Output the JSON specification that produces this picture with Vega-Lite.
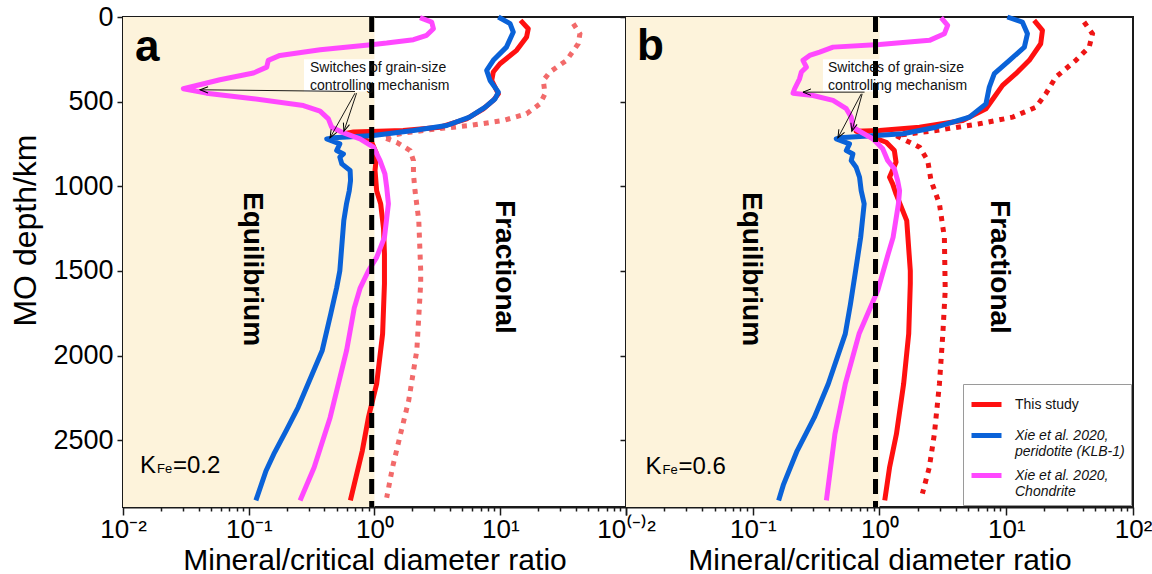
{
  "$schema": "https://vega.github.io/schema/vega-lite/v6.json",
  "padding": {"left": 8, "top": 2, "right": 0, "bottom": 0},
  "spacing": 0,
  "bounds": "flush",
  "datasets": {
    "curves": [
      {"p": "a", "s": "dot", "x": 38.1, "d": 39},
      {"p": "a", "s": "dot", "x": 43, "d": 99},
      {"p": "a", "s": "dot", "x": 41.7, "d": 158},
      {"p": "a", "s": "dot", "x": 33.7, "d": 256},
      {"p": "a", "s": "dot", "x": 24.8, "d": 325},
      {"p": "a", "s": "dot", "x": 22.0, "d": 375},
      {"p": "a", "s": "dot", "x": 22.7, "d": 454},
      {"p": "a", "s": "dot", "x": 20.7, "d": 513},
      {"p": "a", "s": "dot", "x": 16.2, "d": 572},
      {"p": "a", "s": "dot", "x": 10.6, "d": 611},
      {"p": "a", "s": "dot", "x": 5.74, "d": 641},
      {"p": "a", "s": "dot", "x": 3.12, "d": 661},
      {"p": "a", "s": "dot", "x": 1.69, "d": 686},
      {"p": "a", "s": "dot", "x": 1.17, "d": 710},
      {"p": "a", "s": "dot", "x": 1.5, "d": 740},
      {"p": "a", "s": "dot", "x": 1.92, "d": 789},
      {"p": "a", "s": "dot", "x": 2.04, "d": 848},
      {"p": "a", "s": "dot", "x": 2.04, "d": 927},
      {"p": "a", "s": "dot", "x": 2.1, "d": 1026},
      {"p": "a", "s": "dot", "x": 2.25, "d": 1203},
      {"p": "a", "s": "dot", "x": 2.33, "d": 1499},
      {"p": "a", "s": "dot", "x": 2.33, "d": 1575},
      {"p": "a", "s": "dot", "x": 2.17, "d": 1970},
      {"p": "a", "s": "dot", "x": 1.87, "d": 2267},
      {"p": "a", "s": "dot", "x": 1.61, "d": 2464},
      {"p": "a", "s": "dot", "x": 1.39, "d": 2662},
      {"p": "a", "s": "dot", "x": 1.25, "d": 2840},

      {"p": "a", "s": "study", "x": 14.5, "d": 20},
      {"p": "a", "s": "study", "x": 16.7, "d": 69},
      {"p": "a", "s": "study", "x": 16.2, "d": 118},
      {"p": "a", "s": "study", "x": 13.5, "d": 197},
      {"p": "a", "s": "study", "x": 9.95, "d": 276},
      {"p": "a", "s": "study", "x": 8.8, "d": 325},
      {"p": "a", "s": "study", "x": 8.55, "d": 375},
      {"p": "a", "s": "study", "x": 9.66, "d": 454},
      {"p": "a", "s": "study", "x": 8.8, "d": 493},
      {"p": "a", "s": "study", "x": 7.35, "d": 542},
      {"p": "a", "s": "study", "x": 5.4, "d": 602},
      {"p": "a", "s": "study", "x": 3.32, "d": 651},
      {"p": "a", "s": "study", "x": 1.69, "d": 671},
      {"p": "a", "s": "study", "x": 0.68, "d": 680},
      {"p": "a", "s": "study", "x": 0.6, "d": 686},
      {"p": "a", "s": "study", "x": 0.95, "d": 740},
      {"p": "a", "s": "study", "x": 1.04, "d": 809},
      {"p": "a", "s": "study", "x": 1.01, "d": 907},
      {"p": "a", "s": "study", "x": 1.04, "d": 1026},
      {"p": "a", "s": "study", "x": 1.12, "d": 1104},
      {"p": "a", "s": "study", "x": 1.18, "d": 1250},
      {"p": "a", "s": "study", "x": 1.2, "d": 1400},
      {"p": "a", "s": "study", "x": 1.2, "d": 1575},
      {"p": "a", "s": "study", "x": 1.16, "d": 1872},
      {"p": "a", "s": "study", "x": 1.04, "d": 2168},
      {"p": "a", "s": "study", "x": 0.895, "d": 2366},
      {"p": "a", "s": "study", "x": 0.8, "d": 2563},
      {"p": "a", "s": "study", "x": 0.69, "d": 2761},
      {"p": "a", "s": "study", "x": 0.643, "d": 2856},

      {"p": "a", "s": "klb", "x": 9.66, "d": 0},
      {"p": "a", "s": "klb", "x": 11.97, "d": 39},
      {"p": "a", "s": "klb", "x": 12.7, "d": 89},
      {"p": "a", "s": "klb", "x": 11.2, "d": 178},
      {"p": "a", "s": "klb", "x": 8.8, "d": 256},
      {"p": "a", "s": "klb", "x": 7.8, "d": 316},
      {"p": "a", "s": "klb", "x": 8.3, "d": 375},
      {"p": "a", "s": "klb", "x": 9.66, "d": 444},
      {"p": "a", "s": "klb", "x": 9.1, "d": 483},
      {"p": "a", "s": "klb", "x": 7.6, "d": 533},
      {"p": "a", "s": "klb", "x": 5.7, "d": 592},
      {"p": "a", "s": "klb", "x": 3.75, "d": 641},
      {"p": "a", "s": "klb", "x": 2.04, "d": 671},
      {"p": "a", "s": "klb", "x": 0.98, "d": 700},
      {"p": "a", "s": "klb", "x": 0.471, "d": 714},
      {"p": "a", "s": "klb", "x": 0.417, "d": 720},
      {"p": "a", "s": "klb", "x": 0.53, "d": 750},
      {"p": "a", "s": "klb", "x": 0.5, "d": 789},
      {"p": "a", "s": "klb", "x": 0.566, "d": 809},
      {"p": "a", "s": "klb", "x": 0.53, "d": 828},
      {"p": "a", "s": "klb", "x": 0.55, "d": 868},
      {"p": "a", "s": "klb", "x": 0.64, "d": 907},
      {"p": "a", "s": "klb", "x": 0.645, "d": 966},
      {"p": "a", "s": "klb", "x": 0.63, "d": 1026},
      {"p": "a", "s": "klb", "x": 0.6, "d": 1100},
      {"p": "a", "s": "klb", "x": 0.57, "d": 1203},
      {"p": "a", "s": "klb", "x": 0.53, "d": 1499},
      {"p": "a", "s": "klb", "x": 0.5, "d": 1600},
      {"p": "a", "s": "klb", "x": 0.45, "d": 1750},
      {"p": "a", "s": "klb", "x": 0.384, "d": 1970},
      {"p": "a", "s": "klb", "x": 0.247, "d": 2306},
      {"p": "a", "s": "klb", "x": 0.198, "d": 2445},
      {"p": "a", "s": "klb", "x": 0.158, "d": 2583},
      {"p": "a", "s": "klb", "x": 0.137, "d": 2682},
      {"p": "a", "s": "klb", "x": 0.114, "d": 2856},

      {"p": "a", "s": "chon", "x": 2.3, "d": 4},
      {"p": "a", "s": "chon", "x": 2.85, "d": 30},
      {"p": "a", "s": "chon", "x": 2.94, "d": 69},
      {"p": "a", "s": "chon", "x": 2.6, "d": 108},
      {"p": "a", "s": "chon", "x": 2.04, "d": 134},
      {"p": "a", "s": "chon", "x": 1.25, "d": 154},
      {"p": "a", "s": "chon", "x": 0.98, "d": 162},
      {"p": "a", "s": "chon", "x": 0.37, "d": 193},
      {"p": "a", "s": "chon", "x": 0.177, "d": 227},
      {"p": "a", "s": "chon", "x": 0.143, "d": 256},
      {"p": "a", "s": "chon", "x": 0.139, "d": 296},
      {"p": "a", "s": "chon", "x": 0.109, "d": 331},
      {"p": "a", "s": "chon", "x": 0.059, "d": 371},
      {"p": "a", "s": "chon", "x": 0.0302, "d": 424},
      {"p": "a", "s": "chon", "x": 0.046, "d": 450},
      {"p": "a", "s": "chon", "x": 0.109, "d": 483},
      {"p": "a", "s": "chon", "x": 0.272, "d": 523},
      {"p": "a", "s": "chon", "x": 0.369, "d": 556},
      {"p": "a", "s": "chon", "x": 0.43, "d": 602},
      {"p": "a", "s": "chon", "x": 0.456, "d": 651},
      {"p": "a", "s": "chon", "x": 0.548, "d": 680},
      {"p": "a", "s": "chon", "x": 0.767, "d": 720},
      {"p": "a", "s": "chon", "x": 0.98, "d": 769},
      {"p": "a", "s": "chon", "x": 1.107, "d": 848},
      {"p": "a", "s": "chon", "x": 1.21, "d": 927},
      {"p": "a", "s": "chon", "x": 1.25, "d": 1006},
      {"p": "a", "s": "chon", "x": 1.29, "d": 1104},
      {"p": "a", "s": "chon", "x": 1.2, "d": 1302},
      {"p": "a", "s": "chon", "x": 1.04, "d": 1420},
      {"p": "a", "s": "chon", "x": 0.895, "d": 1499},
      {"p": "a", "s": "chon", "x": 0.77, "d": 1600},
      {"p": "a", "s": "chon", "x": 0.69, "d": 1720},
      {"p": "a", "s": "chon", "x": 0.6, "d": 1970},
      {"p": "a", "s": "chon", "x": 0.444, "d": 2366},
      {"p": "a", "s": "chon", "x": 0.331, "d": 2662},
      {"p": "a", "s": "chon", "x": 0.256, "d": 2856},

      {"p": "b", "s": "dot", "x": 41.1, "d": 30},
      {"p": "b", "s": "dot", "x": 47.9, "d": 99},
      {"p": "b", "s": "dot", "x": 45.1, "d": 178},
      {"p": "b", "s": "dot", "x": 35.4, "d": 256},
      {"p": "b", "s": "dot", "x": 24.6, "d": 355},
      {"p": "b", "s": "dot", "x": 20.5, "d": 454},
      {"p": "b", "s": "dot", "x": 17.1, "d": 533},
      {"p": "b", "s": "dot", "x": 11.2, "d": 592},
      {"p": "b", "s": "dot", "x": 6.12, "d": 631},
      {"p": "b", "s": "dot", "x": 2.79, "d": 671},
      {"p": "b", "s": "dot", "x": 1.35, "d": 700},
      {"p": "b", "s": "dot", "x": 1.62, "d": 730},
      {"p": "b", "s": "dot", "x": 2.07, "d": 769},
      {"p": "b", "s": "dot", "x": 2.4, "d": 848},
      {"p": "b", "s": "dot", "x": 2.55, "d": 966},
      {"p": "b", "s": "dot", "x": 2.97, "d": 1104},
      {"p": "b", "s": "dot", "x": 3.25, "d": 1302},
      {"p": "b", "s": "dot", "x": 3.3, "d": 1615},
      {"p": "b", "s": "dot", "x": 3.16, "d": 1872},
      {"p": "b", "s": "dot", "x": 2.97, "d": 2168},
      {"p": "b", "s": "dot", "x": 2.71, "d": 2464},
      {"p": "b", "s": "dot", "x": 2.47, "d": 2662},
      {"p": "b", "s": "dot", "x": 2.18, "d": 2816},

      {"p": "b", "s": "study", "x": 16.6, "d": 20},
      {"p": "b", "s": "study", "x": 19.3, "d": 79},
      {"p": "b", "s": "study", "x": 18.7, "d": 158},
      {"p": "b", "s": "study", "x": 15.2, "d": 256},
      {"p": "b", "s": "study", "x": 11.9, "d": 335},
      {"p": "b", "s": "study", "x": 9.35, "d": 404},
      {"p": "b", "s": "study", "x": 8.05, "d": 473},
      {"p": "b", "s": "study", "x": 6.92, "d": 542},
      {"p": "b", "s": "study", "x": 4.53, "d": 611},
      {"p": "b", "s": "study", "x": 2.07, "d": 651},
      {"p": "b", "s": "study", "x": 1.0, "d": 671},
      {"p": "b", "s": "study", "x": 0.654, "d": 675},
      {"p": "b", "s": "study", "x": 1.13, "d": 740},
      {"p": "b", "s": "study", "x": 1.31, "d": 789},
      {"p": "b", "s": "study", "x": 1.35, "d": 858},
      {"p": "b", "s": "study", "x": 1.2, "d": 947},
      {"p": "b", "s": "study", "x": 1.27, "d": 986},
      {"p": "b", "s": "study", "x": 1.35, "d": 1045},
      {"p": "b", "s": "study", "x": 1.64, "d": 1203},
      {"p": "b", "s": "study", "x": 1.75, "d": 1499},
      {"p": "b", "s": "study", "x": 1.75, "d": 1575},
      {"p": "b", "s": "study", "x": 1.7, "d": 1872},
      {"p": "b", "s": "study", "x": 1.55, "d": 2168},
      {"p": "b", "s": "study", "x": 1.36, "d": 2464},
      {"p": "b", "s": "study", "x": 1.2, "d": 2662},
      {"p": "b", "s": "study", "x": 1.1, "d": 2856},

      {"p": "b", "s": "klb", "x": 10.2, "d": 0},
      {"p": "b", "s": "klb", "x": 13.4, "d": 30},
      {"p": "b", "s": "klb", "x": 14.7, "d": 99},
      {"p": "b", "s": "klb", "x": 13.9, "d": 178},
      {"p": "b", "s": "klb", "x": 10.6, "d": 256},
      {"p": "b", "s": "klb", "x": 8.05, "d": 335},
      {"p": "b", "s": "klb", "x": 7.35, "d": 414},
      {"p": "b", "s": "klb", "x": 6.92, "d": 513},
      {"p": "b", "s": "klb", "x": 5.12, "d": 592},
      {"p": "b", "s": "klb", "x": 2.79, "d": 651},
      {"p": "b", "s": "klb", "x": 1.53, "d": 690},
      {"p": "b", "s": "klb", "x": 0.94, "d": 700},
      {"p": "b", "s": "klb", "x": 0.484, "d": 714},
      {"p": "b", "s": "klb", "x": 0.456, "d": 720},
      {"p": "b", "s": "klb", "x": 0.58, "d": 750},
      {"p": "b", "s": "klb", "x": 0.547, "d": 789},
      {"p": "b", "s": "klb", "x": 0.617, "d": 809},
      {"p": "b", "s": "klb", "x": 0.598, "d": 848},
      {"p": "b", "s": "klb", "x": 0.654, "d": 888},
      {"p": "b", "s": "klb", "x": 0.696, "d": 947},
      {"p": "b", "s": "klb", "x": 0.717, "d": 1026},
      {"p": "b", "s": "klb", "x": 0.757, "d": 1104},
      {"p": "b", "s": "klb", "x": 0.71, "d": 1302},
      {"p": "b", "s": "klb", "x": 0.648, "d": 1499},
      {"p": "b", "s": "klb", "x": 0.59, "d": 1696},
      {"p": "b", "s": "klb", "x": 0.537, "d": 1872},
      {"p": "b", "s": "klb", "x": 0.394, "d": 2168},
      {"p": "b", "s": "klb", "x": 0.306, "d": 2366},
      {"p": "b", "s": "klb", "x": 0.224, "d": 2563},
      {"p": "b", "s": "klb", "x": 0.175, "d": 2761},
      {"p": "b", "s": "klb", "x": 0.16, "d": 2856},

      {"p": "b", "s": "chon", "x": 3.06, "d": 4},
      {"p": "b", "s": "chon", "x": 3.45, "d": 49},
      {"p": "b", "s": "chon", "x": 3.25, "d": 99},
      {"p": "b", "s": "chon", "x": 2.48, "d": 138},
      {"p": "b", "s": "chon", "x": 1.0, "d": 162},
      {"p": "b", "s": "chon", "x": 0.43, "d": 178},
      {"p": "b", "s": "chon", "x": 0.337, "d": 207},
      {"p": "b", "s": "chon", "x": 0.281, "d": 227},
      {"p": "b", "s": "chon", "x": 0.249, "d": 256},
      {"p": "b", "s": "chon", "x": 0.265, "d": 296},
      {"p": "b", "s": "chon", "x": 0.242, "d": 325},
      {"p": "b", "s": "chon", "x": 0.234, "d": 365},
      {"p": "b", "s": "chon", "x": 0.214, "d": 424},
      {"p": "b", "s": "chon", "x": 0.208, "d": 450},
      {"p": "b", "s": "chon", "x": 0.299, "d": 464},
      {"p": "b", "s": "chon", "x": 0.43, "d": 493},
      {"p": "b", "s": "chon", "x": 0.547, "d": 542},
      {"p": "b", "s": "chon", "x": 0.599, "d": 592},
      {"p": "b", "s": "chon", "x": 0.617, "d": 651},
      {"p": "b", "s": "chon", "x": 0.696, "d": 675},
      {"p": "b", "s": "chon", "x": 0.887, "d": 720},
      {"p": "b", "s": "chon", "x": 1.06, "d": 779},
      {"p": "b", "s": "chon", "x": 1.16, "d": 848},
      {"p": "b", "s": "chon", "x": 1.31, "d": 897},
      {"p": "b", "s": "chon", "x": 1.39, "d": 966},
      {"p": "b", "s": "chon", "x": 1.44, "d": 1026},
      {"p": "b", "s": "chon", "x": 1.41, "d": 1104},
      {"p": "b", "s": "chon", "x": 1.28, "d": 1302},
      {"p": "b", "s": "chon", "x": 1.17, "d": 1400},
      {"p": "b", "s": "chon", "x": 0.97, "d": 1615},
      {"p": "b", "s": "chon", "x": 0.69, "d": 1872},
      {"p": "b", "s": "chon", "x": 0.537, "d": 2168},
      {"p": "b", "s": "chon", "x": 0.445, "d": 2464},
      {"p": "b", "s": "chon", "x": 0.381, "d": 2856}
    ],
    "notes": [
      {"p": "a", "k": "letter", "x": 0.01245, "d": 259, "t": "a"},
      {"p": "b", "k": "letter", "x": 0.0122, "d": 257, "t": "b"},
      {"p": "a", "k": "regime", "x": 0.106, "d": 1489, "t": "Equilibrium"},
      {"p": "a", "k": "regime", "x": 10.7, "d": 1477, "t": "Fractional"},
      {"p": "b", "k": "regime", "x": 0.096, "d": 1489, "t": "Equilibrium"},
      {"p": "b", "k": "regime", "x": 8.8, "d": 1477, "t": "Fractional"},
      {"p": "a", "k": "K", "x": 0.01365, "d": 2697, "t": "K"},
      {"p": "a", "k": "sub", "x": 0.01365, "d": 2697, "t": "Fe"},
      {"p": "a", "k": "eq", "x": 0.01365, "d": 2697, "t": "=0.2"},
      {"p": "b", "k": "K", "x": 0.01425, "d": 2702, "t": "K"},
      {"p": "b", "k": "sub", "x": 0.01425, "d": 2702, "t": "Fe"},
      {"p": "b", "k": "eq", "x": 0.01425, "d": 2702, "t": "=0.6"},
      {"p": "a", "k": "note", "x": 0.307, "d": 326, "t": "Switches of grain-size\ncontrolling mechanism"},
      {"p": "b", "k": "note", "x": 0.392, "d": 326, "t": "Switches of grain-size\ncontrolling mechanism"}
    ],
    "arrows": [
      {"p": "a", "x": 0.7, "d": 440, "x2": 0.041, "d2": 430},
      {"p": "a", "x": 0.7, "d": 450, "x2": 0.443, "d2": 714},
      {"p": "a", "x": 0.72, "d": 450, "x2": 0.571, "d2": 675},
      {"p": "b", "x": 0.762, "d": 444, "x2": 0.249, "d2": 444},
      {"p": "b", "x": 0.718, "d": 454, "x2": 0.47, "d2": 714},
      {"p": "b", "x": 0.73, "d": 454, "x2": 0.605, "d2": 675}
    ]
  },
  "hconcat": [
    {
      "width": 503,
      "height": 490,
      "layer": [
        {
          "data": {"values": [{}]},
          "mark": {"type": "rect", "color": "#FDF3DB"},
          "encoding": {
            "x": {"datum": 0.01, "type": "quantitative", "scale": {"type": "log", "domain": [0.01, 100], "nice": false}},
            "x2": {"datum": 1},
            "y": {"datum": 0, "type": "quantitative", "scale": {"domain": [0, 2895], "reverse": true, "nice": false, "zero": false}},
            "y2": {"datum": 2895}
          }
        },
        {
          "data": {"values": [{}]},
          "mark": {"type": "rect", "color": "white"},
          "encoding": {
            "x": {"datum": 0.275, "type": "quantitative"},
            "x2": {"datum": 4.3},
            "y": {"datum": 250, "type": "quantitative"},
            "y2": {"datum": 440}
          }
        },
        {
          "data": {"name": "curves"},
          "transform": [{"filter": "datum.p == 'a' && datum.s == 'dot'"}],
          "mark": {"type": "line", "color": "#F26A6A", "strokeWidth": 5, "strokeDash": [5, 6]},
          "encoding": {
            "x": {"field": "x", "type": "quantitative"},
            "y": {"field": "d", "type": "quantitative"},
            "order": {"field": "d"}
          }
        },
        {
          "data": {"name": "curves"},
          "transform": [{"filter": "datum.p == 'a' && datum.s != 'dot'"}],
          "mark": {"type": "line", "strokeWidth": 5, "strokeJoin": "round"},
          "encoding": {
            "x": {
              "field": "x", "type": "quantitative",
              "axis": {
                "title": "Mineral/critical diameter ratio",
                "values": [0.01, 0.02, 0.03, 0.04, 0.05, 0.06, 0.07, 0.08, 0.09, 0.1, 0.2, 0.3, 0.4, 0.5, 0.6, 0.7, 0.8, 0.9, 1, 2, 3, 4, 5, 6, 7, 8, 9, 10, 20, 30, 40, 50, 60, 70, 80, 90, 100],
                "labelExpr": "datum.value == 0.01 ? '10⁻²' : datum.value == 0.1 ? '10⁻¹' : datum.value == 1 ? '10⁰' : datum.value == 10 ? '10¹' : ''",
                "tickSize": {"condition": {"test": "datum.value == 0.01 || datum.value == 0.1 || datum.value == 1 || datum.value == 10 || datum.value == 100", "value": 8}, "value": 4},
                "labelOverlap": false,
                "labelFlush": false,
                "labelBound": false,
                "labelPadding": 1,
                "titlePadding": 3
              }
            },
            "y": {
              "field": "d", "type": "quantitative",
              "axis": {"title": "MO depth/km", "format": "d", "values": [0, 500, 1000, 1500, 2000, 2500], "tickSize": 6, "labelPadding": 4, "labelFontSize": 27, "titleFontSize": 32, "titlePadding": 10, "titleY": 213, "labelOverlap": false, "labelFlush": false}
            },
            "order": {"field": "d"},
            "color": {
              "field": "s", "type": "nominal",
              "scale": {"domain": ["study", "klb", "chon"], "range": ["#FF1010", "#0A62D8", "#FF48FF"]},
              "legend": null
            }
          }
        },
        {
          "data": {"values": [{}]},
          "mark": {"type": "rule", "color": "black", "strokeWidth": 5, "strokeDash": [15, 7]},
          "encoding": {"x": {"datum": 0.95, "type": "quantitative"}}
        },
        {
          "data": {"name": "arrows"},
          "transform": [{"filter": "datum.p == 'a'"}],
          "mark": {"type": "rule", "color": "black", "strokeWidth": 0.9},
          "encoding": {
            "x": {"field": "x", "type": "quantitative"},
            "x2": {"field": "x2"},
            "y": {"field": "d", "type": "quantitative"},
            "y2": {"field": "d2"}
          }
        },
        {
          "data": {"name": "arrows"},
          "transform": [
            {"filter": "datum.p == 'a'"},
            {"calculate": "atan2((datum.d2 - datum.d) * 0.169, (log(datum.x2) - log(datum.x)) / LN10 * 126) * 180 / PI", "as": "ang"}
          ],
          "mark": {"type": "point", "shape": "M-2,-0.8L0,0L-2,0.8", "filled": false, "stroke": "black", "strokeWidth": 1, "size": 64, "opacity": 1},
          "encoding": {
            "x": {"field": "x2", "type": "quantitative"},
            "y": {"field": "d2", "type": "quantitative"},
            "angle": {"field": "ang", "type": "quantitative", "scale": null}
          }
        },
        {
          "data": {"name": "notes"},
          "transform": [{"filter": "datum.p == 'a' && datum.k == 'note'"}],
          "mark": {"type": "text", "align": "left", "baseline": "alphabetic", "fontSize": 14, "lineHeight": 18, "lineBreak": "\n", "color": "#111"},
          "encoding": {
            "x": {"field": "x", "type": "quantitative"},
            "y": {"field": "d", "type": "quantitative"},
            "text": {"field": "t"}
          }
        },
        {
          "data": {"name": "notes"},
          "transform": [{"filter": "datum.p == 'a' && datum.k == 'letter'"}],
          "mark": {"type": "text", "align": "left", "baseline": "alphabetic", "fontSize": 44, "fontWeight": "bold", "color": "black"},
          "encoding": {
            "x": {"field": "x", "type": "quantitative"},
            "y": {"field": "d", "type": "quantitative"},
            "text": {"field": "t"}
          }
        },
        {
          "data": {"name": "notes"},
          "transform": [{"filter": "datum.p == 'a' && datum.k == 'regime'"}],
          "mark": {"type": "text", "align": "center", "baseline": "middle", "angle": 90, "fontSize": 28, "fontWeight": "bold", "color": "black"},
          "encoding": {
            "x": {"field": "x", "type": "quantitative"},
            "y": {"field": "d", "type": "quantitative"},
            "text": {"field": "t"}
          }
        },
        {
          "data": {"name": "notes"},
          "transform": [{"filter": "datum.p == 'a' && datum.k == 'K'"}],
          "mark": {"type": "text", "align": "left", "baseline": "alphabetic", "fontSize": 24, "color": "black"},
          "encoding": {
            "x": {"field": "x", "type": "quantitative"},
            "y": {"field": "d", "type": "quantitative"},
            "text": {"field": "t"}
          }
        },
        {
          "data": {"name": "notes"},
          "transform": [{"filter": "datum.p == 'a' && datum.k == 'sub'"}],
          "mark": {"type": "text", "align": "left", "baseline": "alphabetic", "fontSize": 13, "dx": 17, "color": "black"},
          "encoding": {
            "x": {"field": "x", "type": "quantitative"},
            "y": {"field": "d", "type": "quantitative"},
            "text": {"field": "t"}
          }
        },
        {
          "data": {"name": "notes"},
          "transform": [{"filter": "datum.p == 'a' && datum.k == 'eq'"}],
          "mark": {"type": "text", "align": "left", "baseline": "alphabetic", "fontSize": 24, "dx": 33, "color": "black"},
          "encoding": {
            "x": {"field": "x", "type": "quantitative"},
            "y": {"field": "d", "type": "quantitative"},
            "text": {"field": "t"}
          }
        }
      ]
    },
    {
      "width": 507,
      "height": 490,
      "layer": [
        {
          "data": {"values": [{}]},
          "mark": {"type": "rect", "color": "#FDF3DB"},
          "encoding": {
            "x": {"datum": 0.01, "type": "quantitative", "scale": {"type": "log", "domain": [0.01, 100], "nice": false}},
            "x2": {"datum": 1},
            "y": {"datum": 0, "type": "quantitative", "scale": {"domain": [0, 2895], "reverse": true, "nice": false, "zero": false}},
            "y2": {"datum": 2895}
          }
        },
        {
          "data": {"values": [{}]},
          "mark": {"type": "rect", "color": "white"},
          "encoding": {
            "x": {"datum": 0.358, "type": "quantitative"},
            "x2": {"datum": 5.6},
            "y": {"datum": 250, "type": "quantitative"},
            "y2": {"datum": 440}
          }
        },
        {
          "data": {"name": "curves"},
          "transform": [{"filter": "datum.p == 'b' && datum.s == 'dot'"}],
          "mark": {"type": "line", "color": "#EE1515", "strokeWidth": 5, "strokeDash": [5, 6]},
          "encoding": {
            "x": {"field": "x", "type": "quantitative"},
            "y": {"field": "d", "type": "quantitative"},
            "order": {"field": "d"}
          }
        },
        {
          "data": {"name": "curves"},
          "transform": [{"filter": "datum.p == 'b' && datum.s != 'dot'"}],
          "mark": {"type": "line", "strokeWidth": 5, "strokeJoin": "round"},
          "encoding": {
            "x": {
              "field": "x", "type": "quantitative",
              "axis": {
                "title": "Mineral/critical diameter ratio",
                "values": [0.01, 0.02, 0.03, 0.04, 0.05, 0.06, 0.07, 0.08, 0.09, 0.1, 0.2, 0.3, 0.4, 0.5, 0.6, 0.7, 0.8, 0.9, 1, 2, 3, 4, 5, 6, 7, 8, 9, 10, 20, 30, 40, 50, 60, 70, 80, 90, 100],
                "labelExpr": "datum.value == 0.01 ? '10⁽⁻⁾²' : datum.value == 0.1 ? '10⁻¹' : datum.value == 1 ? '10⁰' : datum.value == 10 ? '10¹' : datum.value == 100 ? '10²' : ''",
                "tickSize": {"condition": {"test": "datum.value == 0.01 || datum.value == 0.1 || datum.value == 1 || datum.value == 10 || datum.value == 100", "value": 8}, "value": 4},
                "labelOverlap": false,
                "labelFlush": false,
                "labelBound": false,
                "labelPadding": 1,
                "titlePadding": 3
              }
            },
            "y": {
              "field": "d", "type": "quantitative",
              "axis": {"title": null, "labels": false, "values": [0, 500, 1000, 1500, 2000, 2500], "tickSize": 6}
            },
            "order": {"field": "d"},
            "color": {
              "field": "s", "type": "nominal",
              "scale": {"domain": ["study", "klb", "chon"], "range": ["#FF1010", "#0A62D8", "#FF48FF"]},
              "legend": {
                "orient": "bottom-right",
                "offset": 2,
                "title": null,
                "symbolType": "M-1,0H1",
                "symbolStrokeWidth": 5,
                "symbolSize": 900,
                "clipHeight": 29,
                "labelFontSize": 14,
                "labelLimit": 220,
                "labelOffset": 11,
                "rowPadding": 2,
                "padding": 6,
                "strokeColor": "#9a9a9a",
                "fillColor": "white",
                "labelExpr": "datum.value == 'study' ? 'This study' : datum.value == 'klb' ? ['Xie et al. 2020,', 'peridotite (KLB-1)'] : ['Xie et al. 2020,', 'Chondrite']",
                "encoding": {
                  "labels": {
                    "fontStyle": {"condition": {"test": "datum.value == 'study'", "value": "normal"}, "value": "italic"}
                  }
                }
              }
            }
          }
        },
        {
          "data": {"values": [{}]},
          "mark": {"type": "rule", "color": "black", "strokeWidth": 5, "strokeDash": [15, 7]},
          "encoding": {"x": {"datum": 0.93, "type": "quantitative"}}
        },
        {
          "data": {"name": "arrows"},
          "transform": [{"filter": "datum.p == 'b'"}],
          "mark": {"type": "rule", "color": "black", "strokeWidth": 0.9},
          "encoding": {
            "x": {"field": "x", "type": "quantitative"},
            "x2": {"field": "x2"},
            "y": {"field": "d", "type": "quantitative"},
            "y2": {"field": "d2"}
          }
        },
        {
          "data": {"name": "arrows"},
          "transform": [
            {"filter": "datum.p == 'b'"},
            {"calculate": "atan2((datum.d2 - datum.d) * 0.169, (log(datum.x2) - log(datum.x)) / LN10 * 127) * 180 / PI", "as": "ang"}
          ],
          "mark": {"type": "point", "shape": "M-2,-0.8L0,0L-2,0.8", "filled": false, "stroke": "black", "strokeWidth": 1, "size": 64, "opacity": 1},
          "encoding": {
            "x": {"field": "x2", "type": "quantitative"},
            "y": {"field": "d2", "type": "quantitative"},
            "angle": {"field": "ang", "type": "quantitative", "scale": null}
          }
        },
        {
          "data": {"name": "notes"},
          "transform": [{"filter": "datum.p == 'b' && datum.k == 'note'"}],
          "mark": {"type": "text", "align": "left", "baseline": "alphabetic", "fontSize": 14, "lineHeight": 18, "lineBreak": "\n", "color": "#111"},
          "encoding": {
            "x": {"field": "x", "type": "quantitative"},
            "y": {"field": "d", "type": "quantitative"},
            "text": {"field": "t"}
          }
        },
        {
          "data": {"name": "notes"},
          "transform": [{"filter": "datum.p == 'b' && datum.k == 'letter'"}],
          "mark": {"type": "text", "align": "left", "baseline": "alphabetic", "fontSize": 44, "fontWeight": "bold", "color": "black"},
          "encoding": {
            "x": {"field": "x", "type": "quantitative"},
            "y": {"field": "d", "type": "quantitative"},
            "text": {"field": "t"}
          }
        },
        {
          "data": {"name": "notes"},
          "transform": [{"filter": "datum.p == 'b' && datum.k == 'regime'"}],
          "mark": {"type": "text", "align": "center", "baseline": "middle", "angle": 90, "fontSize": 28, "fontWeight": "bold", "color": "black"},
          "encoding": {
            "x": {"field": "x", "type": "quantitative"},
            "y": {"field": "d", "type": "quantitative"},
            "text": {"field": "t"}
          }
        },
        {
          "data": {"name": "notes"},
          "transform": [{"filter": "datum.p == 'b' && datum.k == 'K'"}],
          "mark": {"type": "text", "align": "left", "baseline": "alphabetic", "fontSize": 24, "color": "black"},
          "encoding": {
            "x": {"field": "x", "type": "quantitative"},
            "y": {"field": "d", "type": "quantitative"},
            "text": {"field": "t"}
          }
        },
        {
          "data": {"name": "notes"},
          "transform": [{"filter": "datum.p == 'b' && datum.k == 'sub'"}],
          "mark": {"type": "text", "align": "left", "baseline": "alphabetic", "fontSize": 13, "dx": 17, "color": "black"},
          "encoding": {
            "x": {"field": "x", "type": "quantitative"},
            "y": {"field": "d", "type": "quantitative"},
            "text": {"field": "t"}
          }
        },
        {
          "data": {"name": "notes"},
          "transform": [{"filter": "datum.p == 'b' && datum.k == 'eq'"}],
          "mark": {"type": "text", "align": "left", "baseline": "alphabetic", "fontSize": 24, "dx": 33, "color": "black"},
          "encoding": {
            "x": {"field": "x", "type": "quantitative"},
            "y": {"field": "d", "type": "quantitative"},
            "text": {"field": "t"}
          }
        }
      ]
    }
  ],
  "resolve": {"scale": {"color": "independent"}, "legend": {"color": "independent"}},
  "config": {
    "font": "Liberation Sans",
    "view": {"stroke": "#1a1a1a", "strokeWidth": 2},
    "axis": {
      "labelFont": "Liberation Sans",
      "labelFontSize": 26,
      "labelColor": "black",
      "titleFont": "Liberation Sans",
      "titleFontSize": 30,
      "titleFontWeight": "normal",
      "titleColor": "black",
      "domainColor": "#1a1a1a",
      "domainWidth": 2,
      "tickColor": "#1a1a1a",
      "tickWidth": 1.5,
      "grid": false
    },
    "legend": {"labelFont": "Liberation Sans", "labelColor": "#111"}
  }
}
